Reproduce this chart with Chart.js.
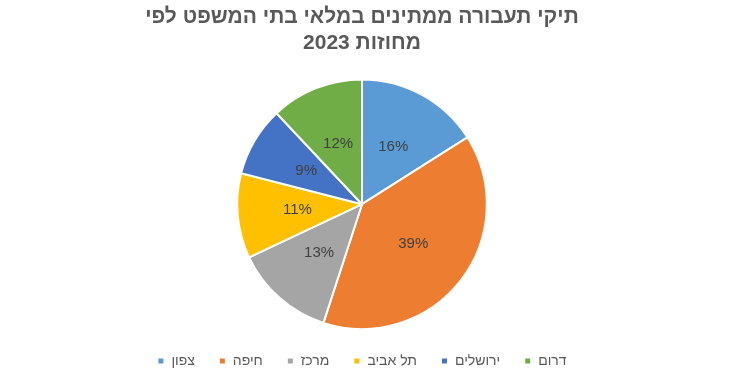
<!DOCTYPE html>
<html lang="he">
<head>
<meta charset="utf-8">
<script src="https://cdn.jsdelivr.net/npm/chart.js@4/dist/chart.umd.min.js"></script>
<style>
  html,body{margin:0;padding:0;background:#fff;}
  #wrap{width:730px;height:378px;position:relative;}
</style>
</head>
<body>
<div id="wrap"><canvas id="c"></canvas></div>
<script>
const districts = ['צפון','חיפה','מרכז','תל אביב','ירושלים','דרום'];
const shares = [16, 39, 13, 11, 9, 12];
const sliceColors = ['#5B9BD5','#ED7D31','#A5A5A5','#FFC000','#4472C4','#70AD47'];
const titleLines = ['תיקי תעבורה ממתינים במלאי בתי המשפט לפי','מחוזות 2023'];

const FONT = 'Arial, "Liberation Sans", sans-serif';

// percent labels inside slices
const pctLabels = {
  id:'pctLabels',
  afterDatasetsDraw(chart){
    const ctx = chart.ctx;
    const meta = chart.getDatasetMeta(0);
    ctx.save();
    ctx.font = '15px ' + FONT;
    ctx.fillStyle = '#404040';
    ctx.textAlign = 'center';
    ctx.textBaseline = 'middle';
    meta.data.forEach((arc, i)=>{
      const p = arc.getProps(['x','y','startAngle','endAngle','outerRadius'], true);
      const mid = (p.startAngle + p.endAngle)/2;
      const r = p.outerRadius*0.52;
      ctx.fillText(shares[i]+'%', p.x + Math.cos(mid)*r, p.y + Math.sin(mid)*r);
    });
    ctx.restore();
  }
};

new Chart(document.getElementById('c'), {
  type:'pie',
  data:{
    labels: districts,
    datasets:[{ data: shares, backgroundColor: sliceColors, borderColor:'#fff', borderWidth:2 }]
  },
  options:{
    responsive:true,
    maintainAspectRatio:false,
    animation:false,
    layout:{ padding:{ top:0, bottom:0, right:6 } },
    plugins:{
      title:{
        display:true,
        text: titleLines,
        color:'#595959',
        font:{ family: FONT, size:21, weight:'bold', lineHeight:1.2 },
        padding:{ top:5, bottom:23 }
      },
      legend:{
        position:'bottom',
        labels:{
          color:'#595959',
          font:{ family: FONT, size:14 },
          boxWidth:7, boxHeight:7,
          padding:24
        }
      },
      tooltip:{ enabled:false }
    }
  },
  plugins:[pctLabels]
});
</script>
</body>
</html>
